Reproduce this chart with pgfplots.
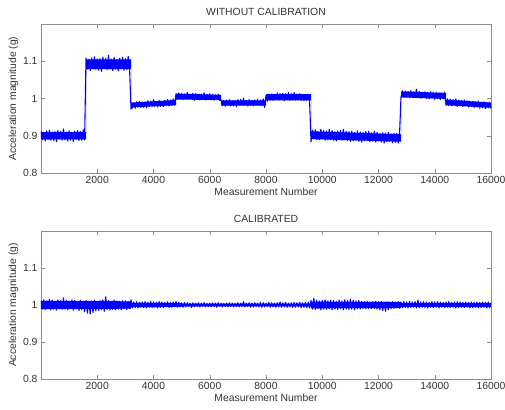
\documentclass[border=0pt]{standalone}
\usepackage{fontspec}
\setmainfont{Liberation Sans}
\usepackage{pgfplots}
\pgfplotsset{compat=1.18}

\definecolor{axgray}{gray}{0.55}
\definecolor{txtgray}{gray}{0.2}

\pgfplotsset{
  mlab/.style={
    scale only axis, width=450bp,
    xmin=0, xmax=16000, ymin=0.8, ymax=1.2,
    xtick={2000,4000,...,16000}, ytick={0.8,0.9,1,1.1},
    scaled ticks=false,
    /pgf/number format/1000 sep={},
    /pgf/number format/assume math mode=true,
    tick align=inside, major tick length=4bp,
    axis line style={axgray}, every tick/.style={axgray},
    tick label style={font=\fontsize{10.4}{12}\selectfont, text=txtgray},
    label style={font=\fontsize{10.4}{12}\selectfont, text=txtgray},
    title style={font=\fontsize{10.4}{12}\selectfont, text=txtgray, yshift=-1bp},
    xlabel={Measurement Number}, ylabel={Acceleration magnitude (g)},
    xlabel style={yshift=3bp}, ylabel style={yshift=-2bp},
  },
  sig/.style={blue, line width=1.1pt, line join=round},
  core/.style={fill=blue, draw=none},
}

\begin{document}
\begin{tikzpicture}
\useasboundingbox (0,0) rectangle (505bp,410bp);

\begin{axis}[mlab, at={(41bp,237bp)}, anchor=south west, height=149bp,
  title={WITHOUT CALIBRATION}]
% solid core of the noise band
\addplot[core] coordinates {
(0,0.910)(1600,0.910)(1600,1.105)(3200,1.105)(3200,0.989)(4800,0.996)(4800,1.013)(6400,1.010)
(6400,0.995)(8000,0.995)(8000,1.012)(9600,1.012)(9600,0.912)(12800,0.904)(12800,1.019)(14400,1.015)
(14400,0.997)(16000,0.989)
(16000,0.975)(14400,0.982)(14400,0.999)(12800,1.003)(12800,0.884)(9600,0.891)(9600,0.995)(8000,0.995)
(8000,0.981)(6400,0.981)(6400,0.996)(4800,0.997)(4800,0.982)(3200,0.976)(3200,1.079)(1600,1.079)
(1600,0.890)(0,0.890)} -- cycle;
\addplot[sig] coordinates {
(0,0.912)(50,0.889)(100,0.909)(150,0.886)(200,0.913)(250,0.890)(300,0.915)(350,0.888)
(400,0.910)(450,0.887)(500,0.911)(550,0.884)(600,0.914)(650,0.891)(700,0.912)(750,0.888)
(800,0.918)(850,0.889)(900,0.910)(950,0.886)(1000,0.913)(1050,0.888)(1100,0.909)(1150,0.885)
(1200,0.912)(1250,0.890)(1300,0.914)(1350,0.887)(1400,0.911)(1450,0.888)(1500,0.916)(1550,0.889)
(1600,1.108)(1650,1.079)(1700,1.105)(1750,1.075)(1800,1.109)(1850,1.080)(1900,1.112)(1950,1.078)
(2000,1.106)(2050,1.076)(2100,1.107)(2150,1.073)(2200,1.111)(2250,1.081)(2300,1.108)(2350,1.077)
(2400,1.116)(2450,1.079)(2500,1.106)(2550,1.075)(2600,1.110)(2650,1.078)(2700,1.105)(2750,1.074)
(2800,1.108)(2850,1.080)(2900,1.111)(2950,1.076)(3000,1.107)(3050,1.078)(3100,1.113)(3150,1.079)
(3200,0.972)(3250,0.975)(3300,0.988)(3350,0.974)(3400,0.991)(3450,0.977)(3500,0.992)(3550,0.976)
(3600,0.990)(3650,0.976)(3700,0.991)(3750,0.975)(3800,0.994)(3850,0.979)(3900,0.993)(3950,0.979)
(4000,0.997)(4050,0.979)(4100,0.992)(4150,0.977)(4200,0.995)(4250,0.979)(4300,0.993)(4350,0.978)
(4400,0.995)(4450,0.982)(4500,0.997)(4550,0.980)(4600,0.996)(4650,0.981)(4700,0.999)(4750,0.982)
(4800,1.013)(4850,0.998)(4900,1.015)(4950,0.999)(5000,1.014)(5050,0.997)(5100,1.012)(5150,0.999)
(5200,1.016)(5250,0.998)(5300,1.012)(5350,0.999)(5400,1.014)(5450,0.995)(5500,1.013)(5550,0.998)
(5600,1.011)(5650,0.996)(5700,1.012)(5750,0.997)(5800,1.015)(5850,0.996)(5900,1.011)(5950,0.998)
(6000,1.013)(6050,0.996)(6100,1.011)(6150,0.995)(6200,1.010)(6250,0.997)(6300,1.011)(6350,0.995)
(6400,0.996)(6450,0.981)(6500,0.994)(6550,0.979)(6600,0.996)(6650,0.982)(6700,0.997)(6750,0.980)
(6800,0.994)(6850,0.980)(6900,0.995)(6950,0.978)(7000,0.997)(7050,0.983)(7100,0.997)(7150,0.982)
(7200,1.000)(7250,0.982)(7300,0.995)(7350,0.980)(7400,0.997)(7450,0.981)(7500,0.995)(7550,0.980)
(7600,0.996)(7650,0.983)(7700,0.998)(7750,0.981)(7800,0.996)(7850,0.981)(7900,0.999)(7950,0.976)
(8000,1.008)(8050,0.993)(8100,1.012)(8150,0.996)(8200,1.012)(8250,0.995)(8300,1.010)(8350,0.997)
(8400,1.015)(8450,0.996)(8500,1.013)(8550,0.998)(8600,1.014)(8650,0.994)(8700,1.013)(8750,0.997)
(8800,1.016)(8850,0.995)(8900,1.013)(8950,0.997)(9000,1.016)(9050,0.996)(9100,1.012)(9150,0.997)
(9200,1.013)(9250,0.995)(9300,1.011)(9350,0.994)(9400,1.010)(9450,0.995)(9500,1.011)(9550,0.994)
(9600,0.884)(9650,0.915)(9700,0.892)(9750,0.916)(9800,0.890)(9850,0.912)(9900,0.889)(9950,0.917)
(10000,0.892)(10050,0.914)(10100,0.888)(10150,0.913)(10200,0.889)(10250,0.917)(10300,0.890)(10350,0.914)
(10400,0.888)(10450,0.911)(10500,0.886)(10550,0.913)(10600,0.889)(10650,0.914)(10700,0.888)(10750,0.917)
(10800,0.890)(10850,0.912)(10900,0.887)(10950,0.911)(11000,0.885)(11050,0.912)(11100,0.887)(11150,0.909)
(11200,0.888)(11250,0.913)(11300,0.885)(11350,0.910)(11400,0.883)(11450,0.909)(11500,0.886)(11550,0.911)
(11600,0.888)(11650,0.912)(11700,0.884)(11750,0.908)(11800,0.885)(11850,0.912)(11900,0.883)(11950,0.909)
(12000,0.886)(12050,0.906)(12100,0.883)(12150,0.908)(12200,0.880)(12250,0.907)(12300,0.884)(12350,0.909)
(12400,0.885)(12450,0.905)(12500,0.881)(12550,0.907)(12600,0.882)(12650,0.906)(12700,0.880)(12750,0.907)
(12800,1.004)(12850,1.021)(12900,1.003)(12950,1.020)(13000,1.004)(13050,1.019)(13100,1.002)(13150,1.021)
(13200,1.003)(13250,1.018)(13300,1.004)(13350,1.025)(13400,1.002)(13450,1.019)(13500,1.001)(13550,1.017)
(13600,1.003)(13650,1.018)(13700,1.000)(13750,1.016)(13800,0.999)(13850,1.019)(13900,1.001)(13950,1.015)
(14000,0.998)(14050,1.016)(14100,1.000)(14150,1.014)(14200,0.997)(14250,1.015)(14300,0.999)(14350,1.017)
(14400,0.982)(14450,0.999)(14500,0.981)(14550,0.998)(14600,0.980)(14650,0.997)(14700,0.982)(14750,0.999)
(14800,0.979)(14850,0.996)(14900,0.981)(14950,0.995)(15000,0.978)(15050,0.996)(15100,0.980)(15150,0.994)
(15200,0.977)(15250,0.993)(15300,0.979)(15350,0.992)(15400,0.976)(15450,0.991)(15500,0.977)(15550,0.993)
(15600,0.974)(15650,0.990)(15700,0.975)(15750,0.991)(15800,0.973)(15850,0.989)(15900,0.975)(15950,0.990)
(16000,0.973)};
\end{axis}

\begin{axis}[mlab, at={(41bp,31bp)}, anchor=south west, height=148bp,
  title={CALIBRATED}]
% solid core of the noise band
\addplot[core] coordinates {
(0,1.011)(3200,1.010)(3200,1.006)(5000,1.005)(5000,1.004)(9600,1.004)(9600,1.009)(12800,1.008)
(12800,1.005)(16000,1.005)
(16000,0.995)(12800,0.995)(12800,0.992)(9600,0.991)(9600,0.996)(5000,0.996)(5000,0.995)(3200,0.994)
(3200,0.990)(0,0.989)} -- cycle;
\addplot[sig] coordinates {
(0,1.012)(50,0.989)(100,1.014)(150,0.988)(200,1.011)(250,0.990)(300,1.015)(350,0.987)
(400,1.013)(450,0.989)(500,1.010)(550,0.986)(600,1.014)(650,0.990)(700,1.012)(750,0.988)
(800,1.019)(850,0.989)(900,1.013)(950,0.987)(1000,1.011)(1050,0.990)(1100,1.014)(1150,0.986)
(1200,1.012)(1250,0.989)(1300,1.010)(1350,0.985)(1400,1.013)(1450,0.988)(1500,1.011)(1550,0.982)
(1600,1.012)(1650,0.978)(1700,1.010)(1750,0.976)(1800,1.011)(1850,0.980)(1900,1.013)(1950,0.984)
(2000,1.010)(2050,0.985)(2100,1.012)(2150,0.987)(2200,1.014)(2250,0.983)(2300,1.022)(2350,0.988)
(2400,1.012)(2450,0.986)(2500,1.010)(2550,0.988)(2600,1.013)(2650,0.987)(2700,1.011)(2750,0.989)
(2800,1.010)(2850,0.987)(2900,1.012)(2950,0.990)(3000,1.011)(3050,0.988)(3100,1.009)(3150,0.990)
(3200,1.014)(3250,0.992)(3300,1.008)(3350,0.993)(3400,1.009)(3450,0.992)(3500,1.007)(3550,0.994)
(3600,1.008)(3650,0.993)(3700,1.009)(3750,0.992)(3800,1.007)(3850,0.994)(3900,1.010)(3950,0.993)
(4000,1.008)(4050,0.994)(4100,1.007)(4150,0.992)(4200,1.009)(4250,0.994)(4300,1.008)(4350,0.993)
(4400,1.007)(4450,0.995)(4500,1.009)(4550,0.993)(4600,1.007)(4650,0.994)(4700,1.008)(4750,0.995)
(4800,1.010)(4850,0.994)(4900,1.007)(4950,0.995)(5000,1.006)(5050,0.994)(5100,1.007)(5150,0.995)
(5200,1.006)(5250,0.996)(5300,1.005)(5350,0.993)(5400,1.006)(5450,0.995)(5500,1.005)(5550,0.996)
(5600,1.006)(5650,0.995)(5700,1.005)(5750,0.996)(5800,1.006)(5850,0.995)(5900,1.004)(5950,0.996)
(6000,1.005)(6050,0.995)(6100,1.006)(6150,0.996)(6200,1.005)(6250,0.994)(6300,1.006)(6350,0.996)
(6400,1.005)(6450,0.995)(6500,1.004)(6550,0.996)(6600,1.005)(6650,0.995)(6700,1.006)(6750,0.996)
(6800,1.005)(6850,0.995)(6900,1.004)(6950,0.996)(7000,1.006)(7050,0.995)(7100,1.005)(7150,0.996)
(7200,1.009)(7250,0.995)(7300,1.005)(7350,0.996)(7400,1.006)(7450,0.994)(7500,1.005)(7550,0.995)
(7600,1.006)(7650,0.996)(7700,1.005)(7750,0.995)(7800,1.007)(7850,0.994)(7900,1.006)(7950,0.995)
(8000,1.005)(8050,0.996)(8100,1.007)(8150,0.994)(8200,1.006)(8250,0.995)(8300,1.005)(8350,0.994)
(8400,1.006)(8450,0.995)(8500,1.008)(8550,0.994)(8600,1.006)(8650,0.995)(8700,1.007)(8750,0.994)
(8800,1.005)(8850,0.995)(8900,1.006)(8950,0.993)(9000,1.007)(9050,0.994)(9100,1.006)(9150,0.995)
(9200,1.007)(9250,0.993)(9300,1.006)(9350,0.994)(9400,1.007)(9450,0.993)(9500,1.008)(9550,0.992)
(9600,1.012)(9650,0.989)(9700,1.018)(9750,0.988)(9800,1.013)(9850,0.990)(9900,1.011)(9950,0.987)
(10000,1.012)(10050,0.989)(10100,1.014)(10150,0.988)(10200,1.011)(10250,0.990)(10300,1.013)(10350,0.987)
(10400,1.012)(10450,0.989)(10500,1.010)(10550,0.988)(10600,1.013)(10650,0.990)(10700,1.011)(10750,0.987)
(10800,1.014)(10850,0.989)(10900,1.012)(10950,0.988)(11000,1.016)(11050,0.989)(11100,1.013)(11150,0.987)
(11200,1.011)(11250,0.990)(11300,1.012)(11350,0.989)(11400,1.010)(11450,0.991)(11500,1.009)(11550,0.990)
(11600,1.010)(11650,0.991)(11700,1.008)(11750,0.990)(11800,1.009)(11850,0.991)(11900,1.010)(11950,0.989)
(12000,1.009)(12050,0.987)(12100,1.010)(12150,0.985)(12200,1.008)(12250,0.983)(12300,1.009)(12350,0.987)
(12400,1.008)(12450,0.990)(12500,1.009)(12550,0.991)(12600,1.008)(12650,0.992)(12700,1.009)(12750,0.991)
(12800,1.008)(12850,0.992)(12900,1.009)(12950,0.993)(13000,1.008)(13050,0.992)(13100,1.010)(13150,0.993)
(13200,1.008)(13250,0.994)(13300,1.009)(13350,0.992)(13400,1.013)(13450,0.993)(13500,1.008)(13550,0.994)
(13600,1.009)(13650,0.993)(13700,1.008)(13750,0.992)(13800,1.007)(13850,0.994)(13900,1.009)(13950,0.993)
(14000,1.008)(14050,0.994)(14100,1.009)(14150,0.992)(14200,1.008)(14250,0.994)(14300,1.007)(14350,0.993)
(14400,1.008)(14450,0.994)(14500,1.009)(14550,0.993)(14600,1.007)(14650,0.994)(14700,1.008)(14750,0.992)
(14800,1.009)(14850,0.993)(14900,1.008)(14950,0.994)(15000,1.007)(15050,0.993)(15100,1.008)(15150,0.994)
(15200,1.007)(15250,0.992)(15300,1.008)(15350,0.993)(15400,1.007)(15450,0.994)(15500,1.008)(15550,0.992)
(15600,1.007)(15650,0.993)(15700,1.008)(15750,0.994)(15800,1.007)(15850,0.992)(15900,1.008)(15950,0.993)
(16000,1.006)};
\end{axis}
\end{tikzpicture}
\end{document}
